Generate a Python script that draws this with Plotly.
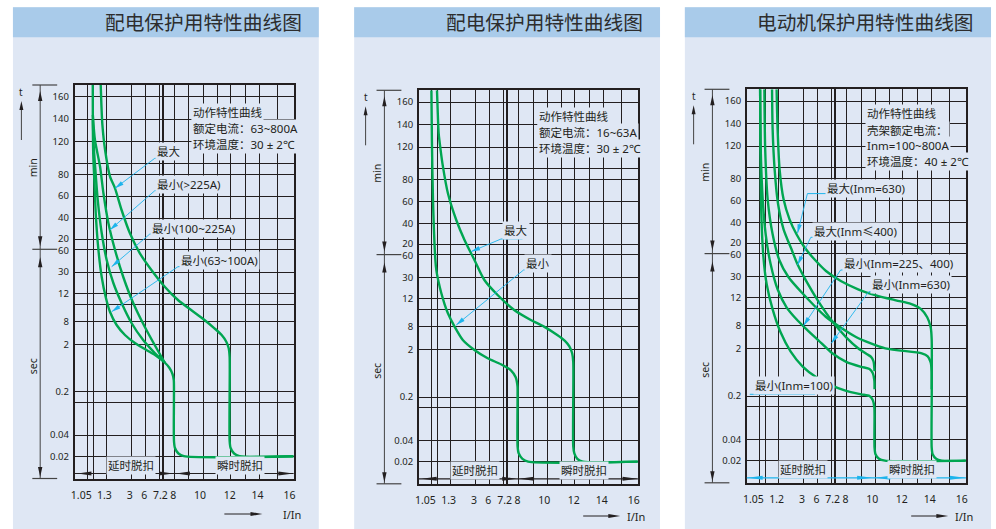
import math
import plotly.graph_objects as go

# ---------------- data (schematic grid units: x across the chart, y down from the top) ----------------
x_label_pos = [6.7, 30.0, 55.5, 70.0, 86.3, 99.3, 126.3, 156.0, 184.0, 216.3]
x_labels_a = ["1.05", "1.3", "3", "6", "7.2", "8", "10", "12", "14", "16"]
x_labels_b = ["1.05", "1.2", "3", "6", "7.2", "8", "10", "12", "14", "16"]
x_grid = [12.7, 19.3, 32.3, 57.3, 71.3, 85.3, 88.0, 89.7, 100.7, 115.0, 129.3,
          143.3, 157.0, 171.7, 186.0, 203.7]
y_label_pos = [11.7, 34.0, 56.7, 89.6, 111.0, 133.0, 153.4, 165.4, 187.0, 208.5,
               236.2, 259.5, 306.8, 350.0, 371.2]
y_labels = ["160", "140", "120", "80", "60", "40", "20", "60", "30", "12", "8",
            "2", "0.2", "0.04", "0.02"]
y_grid = [11.7, 34.0, 56.7, 78.4, 89.6, 111.0, 133.0, 154.6, 164.2, 187.0, 208.5,
          219.0, 236.2, 259.5, 306.8, 317.2, 350.0, 371.2]

# panel 1 curves
p1_c1_x = [18.3, 18.4, 18.8, 20.0, 21.5, 24.0, 27.3, 31.3, 35.7, 42.3, 50.7, 60.7, 72.3, 82.3,
           90.7, 95.5, 98.5, 99.8, 100.0, 100.0, 101.0, 104.5, 110.0, 220.4]
p1_c1_y = [0, 40, 70, 98, 132, 165, 192, 212, 227, 240, 250, 258, 265, 271,
           277.5, 283, 289, 295, 305, 356, 363, 368.5, 371.2, 371.2]
p1_c2_x = [18.4, 19.2, 20.7, 23.3, 27.3, 32.3, 39.0, 47.3, 57.3, 69.0, 80.7, 90.7]
p1_c2_y = [35, 60, 82, 115, 148, 175, 198, 218, 238, 255, 268, 277.5]
p1_c3_x = [18.4, 20.5, 25.7, 29.0, 34.0, 40.7, 49.0, 59.0, 70.7, 82.3, 90.7]
p1_c3_y = [30, 55, 82, 108, 138, 165, 192, 218, 242, 263, 277.5]
p1_max_x = [26.3, 27.0, 28.0, 30.7, 35.7, 40.7, 47.3, 55.7, 65.7, 77.3, 90.7, 104.0, 117.3,
            130.7, 140.7, 148.0, 152.5, 155.0, 156.0, 156.0, 157.0, 160.5, 166.0, 220.4]
p1_max_y = [0, 20, 40, 65, 91.7, 103.3, 125, 148.3, 168.3, 185, 201.7, 215, 225,
            235, 243.3, 250, 256.5, 263, 272, 356, 363, 368.5, 371.2, 371.2]

# panel 2 curves
p2_min_x = [12.7, 13.2, 14.3, 16.7, 17.7, 20.0, 22.7, 26.0, 29.3, 36.0, 44.3, 56.0, 69.3, 82.7,
            92.7, 97.5, 99.3, 99.4, 99.4, 100.5, 104.3, 110.0, 220.4]
p2_min_y = [0, 50, 110, 170, 180, 192, 203, 214, 223, 236.3, 249.7, 259.7, 268, 274,
            280, 287, 296, 305, 356, 363, 368.5, 371.3, 371.3]
p2_max_x = [18.3, 19.0, 20.0, 22.0, 24.3, 29.3, 37.7, 46.0, 56.0, 66.0, 79.3, 96.0, 112.7,
            126.0, 139.3, 147.0, 151.5, 154.3, 155.4, 155.4, 156.5, 159.5, 165.0, 220.4]
p2_max_y = [0, 20, 43, 60, 76.3, 103, 129.7, 149.7, 169.7, 189.7, 204.7, 219.7, 229.7,
            236.3, 244.7, 250.5, 256, 263, 272, 356, 363, 368.5, 371.3, 371.3]

# panel 3 curves
p3_l1_x = [13.4, 13.8, 14.5, 16.5, 20.0, 26.0, 34.0, 44.0, 56.0, 70.0, 85.0, 100.0, 115.0,
           123.5, 126.8, 128.3, 128.5, 128.5, 129.5, 133.0, 139.0, 220.4]
p3_l1_y = [0, 60, 120, 165, 195, 220, 243, 262, 277, 288, 296, 301.5, 305,
           306.8, 311, 318, 326, 358, 365, 369.5, 371.3, 371.3]
p3_l2_x = [13.4, 14.0, 16.0, 19.0, 24.0, 31.0, 40.0, 50.0, 58.0, 72.0, 86.0, 100.0, 115.0,
           123.5, 126.8, 128.3, 128.5]
p3_l2_y = [0, 60, 110, 145, 175, 200, 218, 230, 238, 251, 264, 272.5, 277.5,
           279.7, 284, 291, 300]
p3_l3_x = [25.4, 26.0, 28.0, 31.5, 37.0, 45.0, 51.0, 60.0, 72.0, 86.0, 100.0, 112.0, 121.0,
           125.0, 127.5, 128.5]
p3_l3_y = [0, 40, 80, 115, 140, 160, 175, 192, 212, 232, 248, 259, 265, 267.5, 272, 282]
p3_l4_x = [17.7, 18.5, 21.0, 26.0, 32.7, 42.0, 56.0, 79.4, 109.4, 139.4, 176.0, 182.0, 185.0,
           186.0, 186.0, 187.0, 190.5, 196.0, 220.4]
p3_l4_y = [0, 60, 110, 145, 170.7, 188, 204, 227.4, 247.4, 259, 264, 267, 273,
           282, 358, 365, 369.5, 371.3, 371.3]
p3_l5_x = [30.0, 31.0, 33.0, 37.0, 43.0, 50.0, 58.0, 68.0, 80.0, 95.0, 112.0, 130.0, 150.0,
           165.0, 175.0, 181.5, 185.0, 186.0, 186.0]
p3_l5_y = [0, 40, 80, 110, 130, 145, 158, 170, 182, 192, 200, 206, 211,
           214.5, 219.5, 228, 238, 250, 300]

titles = ["配电保护用特性曲线图", "配电保护用特性曲线图", "电动机保护用特性曲线图"]
info_rows = [
    ["动作特性曲线", "额定电流：63~800A", "环境温度：30 ± 2℃"],
    ["动作特性曲线", "额定电流：16~63A", "环境温度：30 ± 2℃"],
    ["动作特性曲线", "壳架额定电流：", "Inm=100~800A", "环境温度：40 ± 2℃"],
]
callout_texts = [
    ["最大", "最小(>225A)", "最小(100~225A)", "最小(63~100A)"],
    ["最大", "最小"],
    ["最大(Inm=630)", "最大(Inm≤400)", "最小(Inm=225、400)", "最小(Inm=630)", "最小(Inm=100)"],
]

# ---------------- layout geometry / styles ----------------
W, H = 996, 529
PW, PH = 220.4, 393.5
ORIG = [(71.0, 85.0), (417.3, 90.3), (747.3, 89.3)]
PANEL_X = [(9.0, 316.7), (352.3, 660.0), (685.0, 993.0)]
TITLE_RIGHT = [301.7, 645.0, 978.3]
BG = "#dfe7f4"
HEAD = "#a9cbea"
INK = "#231f20"
GREEN = "#00a651"
CYAN = "#1db4ec"
FONT = "Noto Sans, Noto Sans CJK SC, sans-serif"

info_pos = [(116.7, [27.7, 43.3, 60.0]), (119.4, [26.4, 42.4, 58.0]),
            (119.4, [24.0, 41.4, 56.4, 72.4])]
# (text_left, text_y, underline_x0, underline_x1, underline_y, head_x, head_y, from_end)
callout_geo = [
    [(80.7, 66.7, 80.7, 100.7, 73.3, 40.7, 103.3, False),
     (80.7, 99.3, 80.7, 132.3, 105.7, 35.5, 145.0, False),
     (75.7, 143.3, 75.7, 145.7, 149.0, 37.3, 181.7, False),
     (105.0, 175.0, 104.0, 169.0, 181.7, 37.3, 226.7, False)],
    [(83.7, 140.7, 82.7, 104.3, 148.7, 52.7, 161.3, False),
     (106.0, 173.0, 105.4, 125.4, 179.7, 37.7, 234.7, False)],
    [(78.7, 98.7, 61.0, 141.0, 104.3, 51.0, 144.0, False),
     (65.4, 142.7, 64.4, 139.4, 148.0, 51.0, 175.7, False),
     (96.0, 174.0, 94.4, 177.0, 180.7, 57.0, 236.5, False),
     (123.5, 195.0, 122.7, 182.7, 202.4, 85.0, 254.0, False),
     (6.0, 295.7, 3.0, 68.5, 305.0, 77.0, 296.0, True)],
]
bottom_heads = [
    [(3, 17), (99, 85), (102, 116), (220, 205)],
    [(3, 18), (98, 84), (101, 116), (220, 205)],
    [(1, 16), (126, 111), (129.4, 144.4), (219.4, 204.4)],
]
bottom_color = [INK, INK, CYAN]
iin_arrow = [(150.7, 189.0, 429.0), (165.4, 202.7, 425.7), (165.4, 202.7, 426.7)]

shapes = []
annotations = []


def to_paper(i, rx, ry):
    x0, y0 = ORIG[i]
    return (x0 + rx) / W, 1 - (y0 + ry) / H


def add_line(i, a, b, color, width):
    pa, pb = to_paper(i, *a), to_paper(i, *b)
    shapes.append(dict(type="line", xref="paper", yref="paper", x0=pa[0], y0=pa[1],
                       x1=pb[0], y1=pb[1], line=dict(color=color, width=width), layer="above"))


def add_head(i, tip, frm, color, length=10.0, half=2.2):
    dx, dy = tip[0] - frm[0], tip[1] - frm[1]
    n = math.hypot(dx, dy)
    ux, uy = dx / n, dy / n
    bx, by = tip[0] - ux * length, tip[1] - uy * length
    nx, ny = -uy * half, ux * half
    pts = [tip, (bx + nx, by + ny), (bx - nx, by - ny)]
    pp = [to_paper(i, x, y) for x, y in pts]
    path = "M{:.5f},{:.5f} L{:.5f},{:.5f} L{:.5f},{:.5f} Z".format(*pp[0], *pp[1], *pp[2])
    shapes.append(dict(type="path", xref="paper", yref="paper", path=path, fillcolor=color,
                       line=dict(width=0), layer="above"))


def add_text(i, rx, ry, s, size=11.5, xanchor="left", bg=None, angle=0, color=INK):
    x, y = to_paper(i, rx, ry)
    d = dict(xref="paper", yref="paper", x=x, y=y, text=s, showarrow=False, xanchor=xanchor,
             yanchor="middle", font=dict(family=FONT, size=size, color=color), textangle=angle)
    if bg:
        d.update(bgcolor=bg, borderpad=1)
    annotations.append(d)


# panel backgrounds and header bars
for i, (a, b) in enumerate(PANEL_X):
    shapes.append(dict(type="rect", xref="paper", yref="paper", x0=a / W, x1=b / W,
                       y0=0, y1=1 - 7.3 / H, fillcolor=BG, line=dict(width=0), layer="below"))
    shapes.append(dict(type="rect", xref="paper", yref="paper", x0=a / W, x1=b / W,
                       y0=1 - 37.3 / H, y1=1 - 7.3 / H, fillcolor=HEAD, line=dict(width=0),
                       layer="below"))
    annotations.append(dict(xref="paper", yref="paper", x=TITLE_RIGHT[i] / W, y=1 - 22.3 / H,
                            text=titles[i], showarrow=False, xanchor="right", yanchor="middle",
                            font=dict(family=FONT, size=19.7, color="#2d2d2d")))

for i in range(3):
    # left dimension line (min / sec)
    dxp = -34.6
    add_line(i, (dxp, 0), (dxp, PH), "#444", 1)
    for yy in (0, 164.3, PH):
        add_line(i, (-42.5, yy), (-17.5, yy), "#444", 1.2)
    add_head(i, (dxp, 6), (dxp, 20), INK, 10, 2.2)
    add_head(i, (dxp, 161.3), (dxp, 150), INK, 10, 2.2)
    add_head(i, (dxp, 172.3), (dxp, 185), INK, 10, 2.2)
    add_head(i, (dxp, PH - 1.5), (dxp, PH - 15), INK, 10, 2.2)
    add_text(i, -41.5, 83.0, "min", size=10.5, xanchor="center", angle=-90)
    add_text(i, -41.5, 281.0, "sec", size=10.5, xanchor="center", angle=-90)
    # t arrow
    add_text(i, -53.5, 7.0, "t", size=10, xanchor="center")
    add_line(i, (-53.5, 55), (-53.5, 22), "#444", 1)
    add_head(i, (-53.5, 16), (-53.5, 30), INK, 9, 2.0)
    # bottom trip-zone dimension line
    add_line(i, (0, 388.5), (PW, 388.5), bottom_color[i], 1.2)
    for tip, base in bottom_heads[i]:
        add_head(i, (tip, 388.5), (base, 388.5), bottom_color[i], abs(tip - base), 2.0)
    add_text(i, 57.0, 380.0, "延时脱扣", xanchor="center", bg=BG)
    add_text(i, 166.0, 380.0, "瞬时脱扣", xanchor="center", bg=BG)
    # I/In arrow
    xa, xb, ya = iin_arrow[i]
    add_line(i, (xa, ya), (xb - 8, ya), INK, 1)
    add_head(i, (xb, ya), (xa, ya), INK, 12, 2.0)
    add_text(i, 207.5, ya + 0.5, "I/In", size=11)
    # information box
    bx, rows_y = info_pos[i]
    for s, yy in zip(info_rows[i], rows_y):
        add_text(i, bx, yy, s, bg=BG)
    # callouts
    for s, (tx, ty, u0, u1, uy, hx, hy, from_end) in zip(callout_texts[i], callout_geo[i]):
        add_text(i, tx, ty, s, bg=BG)
        add_line(i, (u0, uy), (u1, uy), CYAN, 1)
        sx = u1 if from_end else u0
        add_line(i, (sx, uy), (hx, hy), CYAN, 0.9)
        add_head(i, (hx, hy), (sx, uy), CYAN, 9, 2.2)

curves = [
    [(p1_c1_x, p1_c1_y), (p1_c2_x, p1_c2_y), (p1_c3_x, p1_c3_y), (p1_max_x, p1_max_y)],
    [(p2_min_x, p2_min_y), (p2_max_x, p2_max_y)],
    [(p3_l1_x, p3_l1_y), (p3_l2_x, p3_l2_y), (p3_l3_x, p3_l3_y), (p3_l4_x, p3_l4_y),
     (p3_l5_x, p3_l5_y)],
]

fig = go.Figure()
for i in range(3):
    s = "" if i == 0 else str(i + 1)
    for cx, cy in curves[i]:
        fig.add_trace(go.Scatter(x=cx, y=cy, mode="lines", xaxis="x" + s, yaxis="y" + s,
                                 line=dict(color=GREEN, width=2.4, shape="spline", smoothing=0.7),
                                 hoverinfo="skip", showlegend=False))
    x0, y0 = ORIG[i]
    fig.update_layout(**{
        "xaxis" + s: dict(domain=[x0 / W, (x0 + PW) / W], range=[0, PW], anchor="y" + s,
                          showgrid=False, zeroline=False, tickmode="array",
                          tickvals=x_label_pos, ticktext=(x_labels_b if i == 2 else x_labels_a),
                          ticks="outside", ticklen=6, tickcolor="rgba(0,0,0,0)",
                          showline=True, mirror=True, linecolor=INK, linewidth=1.6,
                          tickfont=dict(family=FONT, size=10.5, color=INK),
                          minor=dict(tickmode="array", tickvals=x_grid, showgrid=True,
                                     gridcolor=INK, gridwidth=1.25, ticks=""),
                          fixedrange=True),
        "yaxis" + s: dict(domain=[1 - (y0 + PH) / H, 1 - y0 / H], range=[PH, 0], anchor="x" + s,
                          showgrid=False, zeroline=False, tickmode="array",
                          tickvals=y_label_pos, ticktext=y_labels,
                          ticks="outside", ticklen=2, tickcolor="rgba(0,0,0,0)",
                          showline=True, mirror=True, linecolor=INK, linewidth=1.6,
                          tickfont=dict(family=FONT, size=9.5, color=INK),
                          minor=dict(tickmode="array", tickvals=y_grid, showgrid=True,
                                     gridcolor=INK, gridwidth=1.25, ticks=""),
                          fixedrange=True),
    })

fig.update_layout(width=W, height=H, margin=dict(l=0, r=0, t=0, b=0),
                  paper_bgcolor="white", plot_bgcolor="rgba(0,0,0,0)",
                  shapes=shapes, annotations=annotations, showlegend=False)
fig.write_html("out.html", config={"displayModeBar": False},
               post_script="document.body.style.margin='0';document.body.style.overflow='hidden';")
